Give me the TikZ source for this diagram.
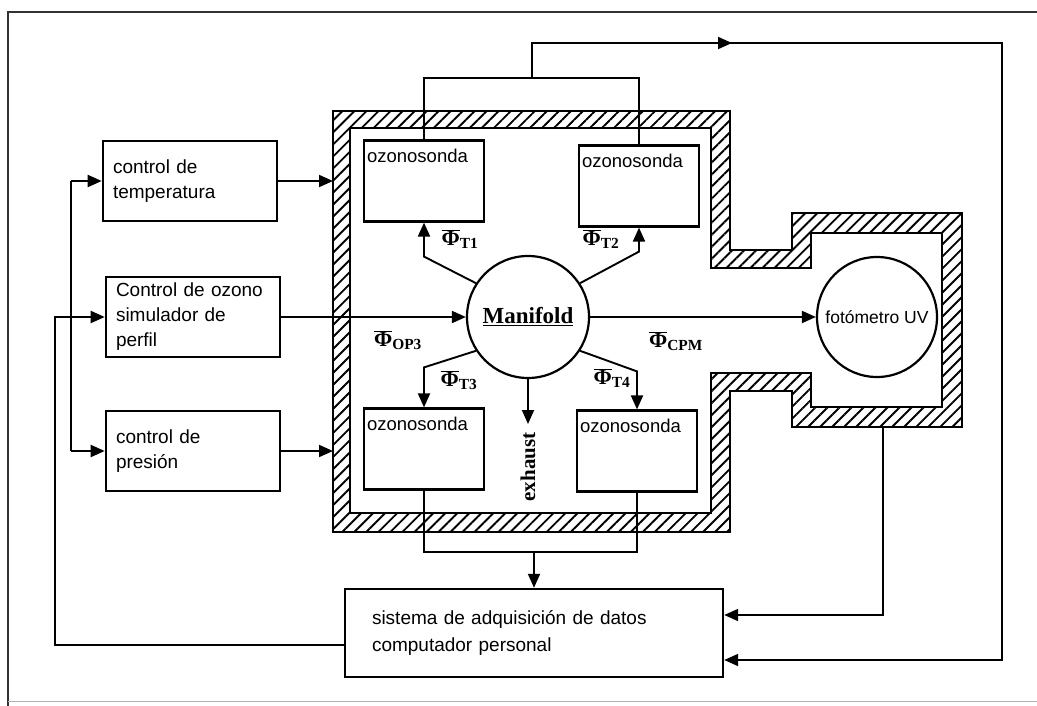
\documentclass[tikz,border=0pt]{standalone}
\usepackage{fontspec}
\setmainfont{Liberation Sans}
\newfontfamily\serifb{Liberation Serif}
\usetikzlibrary{arrows.meta,patterns.meta,calc}
\newcommand\fluxphi[1]{$\overline{\mbox{Φ}}$\textsubscript{#1}}
\begin{document}
\begin{tikzpicture}[x=1pt,y=-1pt,
  ln/.style={line width=1.9pt},
  arr/.style={line width=1.9pt,-{Triangle[length=14pt,width=12pt]}},
  ctrlbox/.style={draw,line width=2.6pt,minimum width=174pt,minimum height=80pt,
    text width=154pt,inner xsep=10pt,align=left,font=\fontsize{19}{25}\selectfont},
  sondabox/.style={draw,line width=2.2pt,minimum width=120pt,minimum height=81pt,
    label={[anchor=north west,xshift=4pt,yshift=-9pt,inner sep=0pt,
      font=\fontsize{18.5}{20}\selectfont]north west:ozonosonda}},
  round/.style={draw,circle,line width=2.2pt,inner sep=0pt},
  phi/.style={inner sep=0pt,font=\serifb\bfseries\fontsize{22}{22}\selectfont}
]
\useasboundingbox (0,0) rectangle (1037,706);
\fill[white] (0,0) rectangle (1037,706);
% frame
\draw[line width=1.3pt,black!80] (8,706) -- (8,12) -- (1037,12);
\draw[line width=1pt,black!30] (8,701) -- (1037,701);

% chamber walls
\fill[pattern={Lines[angle=45,distance=8.5pt,line width=1.9pt]},even odd rule]
  (333,111) -- (730,111) -- (730,250) -- (792,250) -- (792,213) -- (962,213)
  -- (962,427) -- (792,427) -- (792,391) -- (730,391) -- (730,532) -- (333,532) -- cycle
  (350,128) -- (711,128) -- (711,268) -- (811,268) -- (811,233) -- (942,233)
  -- (942,407) -- (811,407) -- (811,373) -- (711,373) -- (711,513) -- (350,513) -- cycle;
\draw[line width=2.8pt,line join=miter]
  (333,111) -- (730,111) -- (730,250) -- (792,250) -- (792,213) -- (962,213)
  -- (962,427) -- (792,427) -- (792,391) -- (730,391) -- (730,532) -- (333,532) -- cycle;
\draw[line width=2.2pt,line join=miter]
  (350,128) -- (711,128) -- (711,268) -- (811,268) -- (811,233) -- (942,233)
  -- (942,407) -- (811,407) -- (811,373) -- (711,373) -- (711,513) -- (350,513) -- cycle;

% nodes
\node[ctrlbox] (temp) at (190,181) {control de\\temperatura};
\node[ctrlbox] (ozo) at (193,317) {Control de ozono\\simulador de\\perfil};
\node[ctrlbox] (pres) at (193,451) {control de\\presión};

\node[sondabox] (T1) at (424,181) {};
\node[sondabox] (T2) at (639,186) {};
\node[sondabox] (T3) at (424,449) {};
\node[sondabox] (T4) at (637,451) {};

\node[round,minimum size=122pt] (man) at (528,317)
  {\serifb\bfseries\fontsize{23}{23}\selectfont\underline{Manifold}};
\node[round,minimum size=120pt] (foto) at (877,317)
  {\fontsize{17.5}{18}\selectfont fotómetro UV};

\node[draw,line width=2.4pt,minimum width=378pt,minimum height=88pt,text width=324pt,
  inner xsep=27pt,align=left,font=\fontsize{19}{27}\selectfont] (sist) at (534,633)
  {sistema de adquisición de datos\\computador personal};

% flux labels
\node[phi] (pT1) at (460,239) {\fluxphi{T1}};
\node[phi] (pT2) at (601,239) {\fluxphi{T2}};
\node[phi] (pOP) at (398,340) {\fluxphi{OP3}};
\node[phi] (pCP) at (676,341) {\fluxphi{CPM}};
\node[phi] (pT3) at (459,380) {\fluxphi{T3}};
\node[phi] (pT4) at (612,378) {\fluxphi{T4}};
\node[phi,rotate=90,font=\serifb\bfseries\fontsize{21}{21}\selectfont] (exh) at (528,467) {exhaust};

% coordinates
\coordinate (busx) at (71,0);
\coordinate (fb) at (55,645);
\coordinate (wallL) at (333,0);
\coordinate (topj) at (532,78);
\coordinate (topa) at (732,43);
\coordinate (rightx) at (1002,0);
\coordinate (fotob) at (883,427);
\coordinate (exend) at (528,424);
\coordinate (botj) at (0,552);

% left controls
\draw[arr] (sist.west |- fb) -- (fb) |- (ozo.west);
\draw[ln] (temp.west -| busx) -- (pres.west -| busx);
\draw[arr] (temp.west -| busx) -- (temp.west);
\draw[arr] (pres.west -| busx) -- (pres.west);
\draw[arr] (temp.east) -- (temp.east -| wallL);
\draw[arr] (pres.east) -- (pres.east -| wallL);
\draw[arr] (ozo.east) -- (man.west);
\draw[arr] (man.east) -- (foto.west);

% manifold branches
\draw[arr] (man.147) -- ($(T1.south)+(0,34)$) -- (T1.south);
\draw[arr] (man.33) -- ($(T2.south)+(0,24)$) -- (T2.south);
\draw[arr] (man.213) -- ($(T3.north)+(0,-40)$) -- (T3.north);
\draw[arr] (man.327) -- ($(T4.north)+(0,-38)$) -- (T4.north);
\draw[arr] (man.south) -- (exend);

% top connections
\draw[ln] (T1.north) |- (topj) -| (T2.north);
\draw[arr] (topj) |- (topa);
\draw[arr] ($(topa)+(-6,0)$) -| (rightx |- 0,660) -- (sist.east |- 0,660);

% bottom connections
\draw[ln] (T3.south) |- (botj -| T4.south) -- (T4.south);
\draw[arr] (sist.north |- botj) -- (sist.north);
\draw[arr] (fotob) |- (sist.east |- 0,615);
\end{tikzpicture}
\end{document}
